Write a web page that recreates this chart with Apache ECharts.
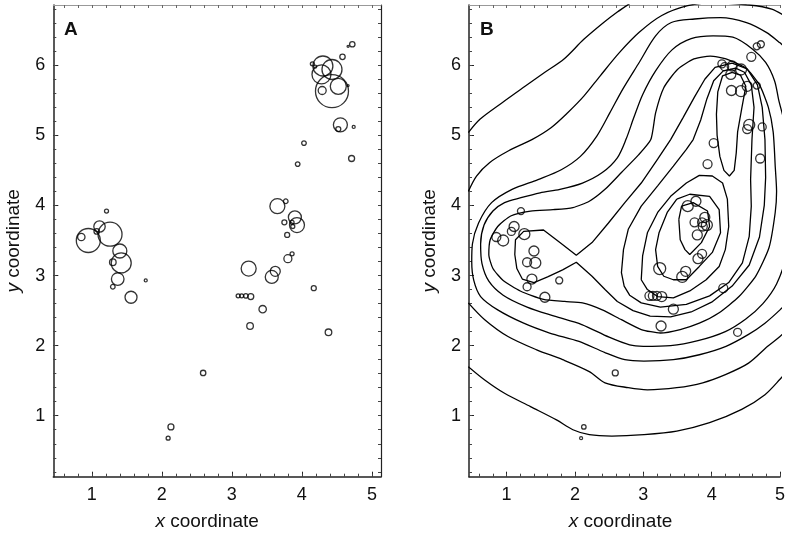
<!DOCTYPE html>
<html>
<head>
<meta charset="utf-8">
<title>x / y coordinate</title>
<script src="https://cdn.jsdelivr.net/npm/echarts@6/dist/echarts.min.js"></script>
<style>
html,body{margin:0;padding:0;background:#fff;}
#chart{width:788px;height:537px;}
</style>
</head>
<body>
<div id="chart"></div>
<script>
// point positions, shared by both panels
var pointX = [4.72,4.66,4.58,4.15,4.19,4.30,4.43,4.28,4.43,4.52,4.29,4.66,4.55,4.52,4.74,4.03,4.71,3.94,
              3.65,3.77,3.90,3.93,3.75,3.86,3.87,3.79,3.86,3.80,3.24,3.62,3.57,4.17,3.09,3.14,3.20,3.27,3.44,3.26,4.38,
              1.21,1.11,1.07,1.26,0.95,0.85,1.40,1.42,1.30,1.37,1.30,1.56,1.77,
              2.59,2.13,2.09];
var pointY = [6.30,6.27,6.12,6.02,5.98,5.99,5.94,5.87,5.63,5.70,5.64,5.71,5.15,5.09,5.12,4.89,4.67,4.59,
              3.99,4.06,3.83,3.72,3.76,3.76,3.70,3.58,3.31,3.24,3.10,3.06,2.98,2.82,2.71,2.71,2.71,2.70,2.52,2.28,2.19,
              3.92,3.70,3.63,3.59,3.50,3.55,3.35,3.18,3.19,2.95,2.84,2.69,2.93,
              1.61,0.84,0.68];
// circle weight of each point in panel A (bubbles) and panel B
var weightA = [5.4,2,5.4,4,3,20,20,19,33,16,8,2,14,5,3,4.6,6,4.6,
               15,4.6,13,15,5,4,4,5,4,8,15,10,13,5,4,4,4.6,6,7.4,6.6,6.6,
               4,11.4,5.4,24,24,7.4,14,20,6.6,12.6,4.6,12,3,
               5.4,6,4];
var weightB = [7,7,9,8,8,10,11,10,11,10,10,7,11,9,8,9,9,9,
               11,10,10,11,9,9,9,10,9,10,12,10,11,9,9,9,9,10,10,10,8,
               7,10,8,11,11,9,10,11,9,10,8,10,7,
               6,4.5,3];

var xTicks = [1,2,3,4,5];
var yTicks = [1,2,3,4,5,6];
var xMinor = [0.6,0.8,1,1.2,1.4,1.6,1.8,2,2.2,2.4,2.6,2.8,3,3.2,3.4,3.6,3.8,4,4.2,4.4,4.6,4.8,5];
var yMinor = [0.2,0.4,0.6,0.8,1,1.2,1.4,1.6,1.8,2,2.2,2.4,2.6,2.8,3,3.2,3.4,3.6,3.8,4,4.2,4.4,4.6,4.8,
              5,5.2,5.4,5.6,5.8,6,6.2,6.4,6.6,6.8];

// density contour lines of panel B, outer to inner
var contour1a = [[0.44,5.04],[0.61,5.23],[0.94,5.47],[1.27,5.70],[1.56,5.90],[1.84,6.09],[2.13,6.37],[2.42,6.61],[2.62,6.76],[2.80,6.88]];
var contour1b = [[0.44,1.70],[0.68,1.51],[0.97,1.32],[1.35,1.13],[1.73,0.94],[1.97,0.80],[2.21,0.73],[2.54,0.71],[3.01,0.73],[3.49,0.78],[3.97,0.90],[4.44,1.09],[4.78,1.30],[5.00,1.52],[5.14,1.68]];
var contour2a = [[0.44,4.20],[0.56,4.42],[0.75,4.61],[1.03,4.78],[1.37,4.94],[1.65,5.11],[1.89,5.32],[2.13,5.56],[2.37,5.85],[2.65,6.18],[2.94,6.47],[3.27,6.71],[3.65,6.85],[4.00,6.89],[4.55,6.86],[4.88,6.80],[5.14,6.66]];
var contour2b = [[0.44,2.61],[0.68,2.37],[1.02,2.13],[1.44,1.94],[1.82,1.80],[2.21,1.63],[2.44,1.47],[2.78,1.40],[3.06,1.37],[3.49,1.40],[3.87,1.47],[4.21,1.59],[4.54,1.75],[4.82,1.99],[5.00,2.13],[5.14,2.26]];
var contour3 = [[5.14,6.20],[5.00,6.32],[4.80,6.47],[4.51,6.61],[4.13,6.68],[3.75,6.66],[3.41,6.61],[3.18,6.42],[2.94,6.04],[2.70,5.66],[2.51,5.32],[2.32,4.99],[2.08,4.70],[1.80,4.51],[1.46,4.37],[1.08,4.23],[0.78,4.04],[0.59,3.75],[0.50,3.45],[0.49,3.20],[0.52,2.93],[0.62,2.70],[0.87,2.51],[1.25,2.32],[1.63,2.18],[2.06,2.06],[2.44,1.90],[2.73,1.80],[3.01,1.78],[3.44,1.80],[3.82,1.87],[4.21,1.99],[4.54,2.16],[4.78,2.32],[5.00,2.51],[5.14,2.65]];
var contour4 = [[5.12,4.50],[5.08,5.10],[4.98,5.51],[4.92,5.78],[4.79,6.04],[4.60,6.23],[4.31,6.40],[4.02,6.42],[3.70,6.38],[3.42,6.22],[3.18,5.92],[2.99,5.58],[2.86,5.25],[2.75,4.95],[2.62,4.68],[2.40,4.47],[2.11,4.32],[1.78,4.23],[1.49,4.18],[1.21,4.11],[0.97,4.04],[0.80,3.92],[0.67,3.72],[0.62,3.45],[0.64,3.17],[0.74,2.92],[0.95,2.72],[1.30,2.55],[1.70,2.42],[2.10,2.30],[2.50,2.12],[2.80,2.01],[3.00,1.99],[3.40,2.00],[3.80,2.07],[4.20,2.20],[4.50,2.38],[4.75,2.60],[4.95,2.88],[5.08,3.25],[5.14,3.80]];
var contour5 = [[4.93,4.56],[4.90,5.05],[4.83,5.40],[4.70,5.72],[4.50,5.96],[4.21,6.09],[3.98,6.13],[3.74,6.09],[3.50,5.94],[3.30,5.68],[3.18,5.32],[3.11,4.94],[2.92,4.71],[2.68,4.47],[2.44,4.23],[2.21,4.06],[1.97,3.97],[1.68,3.94],[1.35,3.92],[1.06,3.85],[0.87,3.70],[0.76,3.51],[0.74,3.30],[0.80,3.10],[0.95,2.93],[1.20,2.78],[1.54,2.66],[1.85,2.63],[2.11,2.61],[2.40,2.51],[2.68,2.37],[2.97,2.23],[3.25,2.18],[3.54,2.23],[3.82,2.32],[4.11,2.47],[4.40,2.70],[4.65,3.00],[4.84,3.40],[4.93,3.90],[4.95,4.20],[4.93,4.56]];
var contour6 = [[4.30,6.03],[4.05,5.97],[3.90,5.80],[3.75,5.55],[3.58,5.25],[3.40,4.94],[3.21,4.66],[2.97,4.32],[2.73,4.04],[2.49,3.75],[2.25,3.47],[2.02,3.29],[1.78,3.47],[1.54,3.65],[1.25,3.63],[1.13,3.51],[1.12,3.30],[1.15,3.10],[1.23,2.95],[1.40,2.90],[1.60,2.98],[1.82,3.08],[2.02,3.19],[2.25,2.99],[2.44,2.80],[2.62,2.63],[2.85,2.50],[3.10,2.42],[3.40,2.41],[3.70,2.48],[4.00,2.62],[4.30,2.85],[4.55,3.15],[4.70,3.55],[4.77,4.00],[4.79,4.40],[4.78,4.94],[4.74,5.40],[4.67,5.72],[4.52,5.95],[4.30,6.03]];
var contour7 = [[4.35,5.96],[4.17,5.92],[4.03,5.78],[3.93,5.52],[3.84,5.22],[3.73,4.94],[3.63,4.80],[3.44,4.56],[3.21,4.28],[2.97,3.99],[2.78,3.66],[2.71,3.37],[2.68,3.04],[2.72,2.85],[2.80,2.72],[2.97,2.61],[3.25,2.55],[3.63,2.59],[3.97,2.71],[4.25,2.90],[4.45,3.18],[4.55,3.56],[4.58,3.99],[4.57,4.37],[4.59,4.94],[4.62,5.40],[4.58,5.72],[4.48,5.90],[4.35,5.96]];
var contour8top = [[4.30,5.90],[4.16,5.85],[4.09,5.62],[4.07,5.30],[4.08,5.00],[4.12,4.70],[4.18,4.50],[4.26,4.42],[4.33,4.50],[4.36,4.75],[4.38,5.05],[4.44,5.38],[4.50,5.70],[4.42,5.86],[4.30,5.90]];
var contour8mid = [[2.97,2.94],[2.99,3.28],[3.06,3.61],[3.21,3.90],[3.40,4.13],[3.63,4.32],[3.82,4.43],[4.01,4.42],[4.16,4.32],[4.23,4.09],[4.25,3.70],[4.20,3.37],[4.11,3.13],[3.92,2.94],[3.68,2.78],[3.44,2.68],[3.21,2.70],[3.06,2.80],[2.97,2.94]];
var contour9 = [[3.49,4.09],[3.68,4.16],[3.97,4.13],[4.11,3.94],[4.13,3.61],[4.01,3.33],[3.82,3.13],[3.63,2.94],[3.44,2.94],[3.30,2.99],[3.21,3.13],[3.18,3.37],[3.23,3.61],[3.35,3.90],[3.49,4.09]];
var contour10 = [[3.52,3.80],[3.56,3.99],[3.73,4.04],[3.94,3.92],[3.97,3.70],[3.85,3.47],[3.68,3.30],[3.61,3.37],[3.54,3.51],[3.52,3.80]];

var FONT = "'Liberation Sans', Arial, sans-serif";
var INK = '#111';

function scatterData(weight){
    var d = [];
    for (var i = 0; i < pointX.length; i++) {
        d.push([pointX[i], pointY[i], weight[i]]);
    }
    return d;
}

// panel B is wider than the window, so its x range stops where the window ends
function makeAxes(gi, xMax, showRight){
    var xRange = {gridIndex: gi, type: 'value', min: 0.45, max: xMax, splitLine: {show: false}};
    var yRange = {gridIndex: gi, type: 'value', min: 0.13, max: 6.86, splitLine: {show: false}};
    var x = [
        echarts.util.merge({
            position: 'bottom',
            axisLine: {onZero: false, lineStyle: {color: '#222', width: 1.5}},
            axisTick: {inside: true, length: 5, customValues: xTicks, lineStyle: {color: '#222'}},
            axisLabel: {customValues: xTicks, fontSize: 18, color: INK, margin: 9, fontFamily: FONT},
            name: '{i|x} coordinate',
            nameLocation: 'middle',
            nameGap: 36,
            nameTextStyle: {fontSize: 19, color: INK, fontFamily: FONT, padding: [0, showRight ? 20 : 8, 0, 0],
                rich: {i: {fontStyle: 'italic', fontSize: 19, color: INK, fontFamily: FONT}}}
        }, xRange, true),
        echarts.util.merge({
            position: 'bottom',
            axisLine: {show: false},
            axisTick: {inside: true, length: 3, customValues: xMinor, lineStyle: {color: '#444'}},
            axisLabel: {show: false}
        }, xRange, true),
        echarts.util.merge({
            position: 'top',
            axisLine: {onZero: false, lineStyle: {color: '#999', width: 1}},
            axisTick: {inside: true, length: 3, customValues: xMinor, lineStyle: {color: '#666'}},
            axisLabel: {show: false}
        }, xRange, true)
    ];
    var y = [
        echarts.util.merge({
            position: 'left',
            axisLine: {onZero: false, lineStyle: {color: '#222', width: 1.5}},
            axisTick: {inside: true, length: 5, customValues: yTicks, lineStyle: {color: '#222'}},
            axisLabel: {customValues: yTicks, fontSize: 18, color: INK, margin: 8, fontFamily: FONT},
            name: '{i|y} coordinate',
            nameLocation: 'middle',
            nameGap: 30,
            nameTextStyle: {fontSize: 19, color: INK, fontFamily: FONT,
                rich: {i: {fontStyle: 'italic', fontSize: 19, color: INK, fontFamily: FONT}}}
        }, yRange, true),
        echarts.util.merge({
            position: 'left',
            axisLine: {show: false},
            axisTick: {inside: true, length: 3, customValues: yMinor, lineStyle: {color: '#444'}},
            axisLabel: {show: false}
        }, yRange, true),
        echarts.util.merge({
            position: 'right',
            show: showRight,
            axisLine: {onZero: false, lineStyle: {color: '#222', width: 1.2}},
            axisTick: {inside: true, length: 3, customValues: yMinor, lineStyle: {color: '#444'}},
            axisLabel: {show: false}
        }, yRange, true)
    ];
    return {x: x, y: y};
}

function contourSeries(pts, smooth){
    return {
        type: 'line',
        xAxisIndex: 3,
        yAxisIndex: 3,
        data: pts,
        symbol: 'none',
        smooth: smooth,
        silent: true,
        z: 2,
        lineStyle: {color: '#000', width: 1.3}
    };
}

function pointSeries(axisIndex, weight){
    return {
        type: 'scatter',
        xAxisIndex: axisIndex,
        yAxisIndex: axisIndex,
        data: scatterData(weight),
        symbol: 'circle',
        symbolSize: function(v){ return v[2]; },
        itemStyle: {color: 'rgba(0,0,0,0)', borderColor: '#000', borderWidth: 1.3},
        z: 3
    };
}

var axesA = makeAxes(0, 5.13, true);
var axesB = makeAxes(1, 5.0, false);

var option = {
    animation: false,
    backgroundColor: '#fff',
    grid: [
        {left: 53.3, top: 5, width: 327.7, height: 471.7},
        {left: 469, top: 5, width: 319, height: 471.7}
    ],
    xAxis: axesA.x.concat(axesB.x),
    yAxis: axesA.y.concat(axesB.y),
    graphic: [
        {type: 'text', left: 64, top: 20, style: {text: 'A', fontSize: 19, fontWeight: 'bold', fill: INK, fontFamily: FONT}},
        {type: 'text', left: 480, top: 20, style: {text: 'B', fontSize: 19, fontWeight: 'bold', fill: INK, fontFamily: FONT}}
    ],
    series: [
        pointSeries(0, weightA),
        contourSeries(contour1a, 0.3),
        contourSeries(contour1b, 0.3),
        contourSeries(contour2a, 0.3),
        contourSeries(contour2b, 0.3),
        contourSeries(contour3, 0.3),
        contourSeries(contour4, 0.3),
        contourSeries(contour5, 0.2),
        contourSeries(contour6, false),
        contourSeries(contour7, false),
        contourSeries(contour8top, false),
        contourSeries(contour8mid, false),
        contourSeries(contour9, false),
        contourSeries(contour10, false),
        pointSeries(3, weightB)
    ]
};

var chart = echarts.init(document.getElementById('chart'), null, {renderer: 'canvas'});
chart.setOption(option);
</script>
</body>
</html>
